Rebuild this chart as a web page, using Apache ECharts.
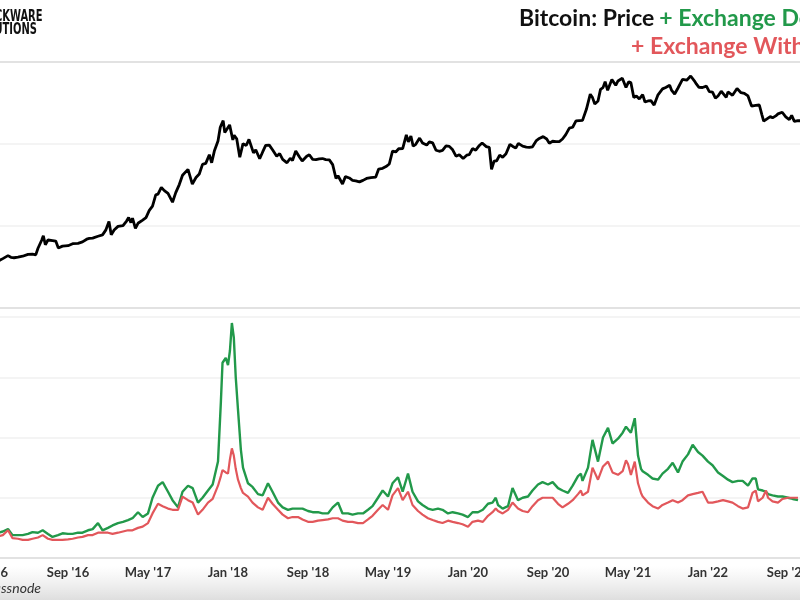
<!DOCTYPE html>
<html>
<head>
<meta charset="utf-8">
<script src="https://cdn.jsdelivr.net/npm/echarts@6/dist/echarts.min.js"></script>
<style>html,body{margin:0;padding:0;background:#fff}#c{width:800px;height:600px}</style>
</head>
<body>
<div id="c"></div>
<script>
// ---- data ----
const priceDates = ['2016-01-20','2016-02-01','2016-02-15','2016-03-01','2016-03-10','2016-03-20','2016-04-01','2016-04-15','2016-05-01','2016-05-15','2016-05-25','2016-06-01','2016-06-12','2016-06-17','2016-06-23','2016-07-01','2016-07-15','2016-07-25','2016-08-02','2016-08-15','2016-09-01','2016-09-15','2016-10-01','2016-10-15','2016-10-28','2016-11-05','2016-11-15','2016-12-01','2016-12-15','2016-12-25','2017-01-04','2017-01-11','2017-01-20','2017-02-01','2017-02-15','2017-02-25','2017-03-03','2017-03-10','2017-03-15','2017-03-24','2017-04-01','2017-04-15','2017-04-25','2017-05-05','2017-05-15','2017-05-25','2017-06-01','2017-06-11','2017-06-20','2017-07-01','2017-07-15','2017-07-25','2017-08-05','2017-08-15','2017-09-01','2017-09-14','2017-09-25','2017-10-05','2017-10-15','2017-10-25','2017-11-05','2017-11-12','2017-11-20','2017-12-01','2017-12-08','2017-12-17','2017-12-22','2017-12-28','2018-01-06','2018-01-16','2018-01-20','2018-01-28','2018-02-06','2018-02-15','2018-02-24','2018-03-04','2018-03-18','2018-03-25','2018-04-06','2018-04-15','2018-04-24','2018-05-05','2018-05-15','2018-05-28','2018-06-06','2018-06-15','2018-06-28','2018-07-08','2018-07-15','2018-07-25','2018-08-05','2018-08-14','2018-08-28','2018-09-05','2018-09-15','2018-09-25','2018-10-05','2018-10-15','2018-10-25','2018-11-05','2018-11-15','2018-11-25','2018-12-01','2018-12-15','2018-12-24','2019-01-05','2019-01-15','2019-01-25','2019-02-05','2019-02-15','2019-02-25','2019-03-10','2019-03-25','2019-04-03','2019-04-15','2019-04-25','2019-05-05','2019-05-15','2019-05-25','2019-06-03','2019-06-15','2019-06-26','2019-07-02','2019-07-10','2019-07-17','2019-07-25','2019-08-06','2019-08-15','2019-08-28','2019-09-05','2019-09-15','2019-09-25','2019-10-05','2019-10-15','2019-10-26','2019-11-05','2019-11-15','2019-11-25','2019-12-05','2019-12-17','2019-12-28','2020-01-05','2020-01-15','2020-01-25','2020-02-05','2020-02-13','2020-02-25','2020-03-05','2020-03-12','2020-03-20','2020-03-28','2020-04-06','2020-04-15','2020-04-25','2020-05-07','2020-05-15','2020-05-25','2020-06-02','2020-06-15','2020-06-26','2020-07-05','2020-07-15','2020-07-27','2020-08-05','2020-08-17','2020-08-28','2020-09-05','2020-09-15','2020-09-25','2020-10-05','2020-10-15','2020-10-25','2020-11-05','2020-11-15','2020-11-25','2020-12-01','2020-12-15','2020-12-27','2021-01-08','2021-01-15','2021-01-22','2021-02-01','2021-02-08','2021-02-15','2021-02-21','2021-02-28','2021-03-13','2021-03-25','2021-04-01','2021-04-14','2021-04-25','2021-05-03','2021-05-10','2021-05-19','2021-05-27','2021-06-05','2021-06-15','2021-06-22','2021-07-01','2021-07-10','2021-07-20','2021-08-01','2021-08-15','2021-08-25','2021-09-06','2021-09-12','2021-09-21','2021-10-01','2021-10-15','2021-10-21','2021-10-28','2021-11-09','2021-11-20','2021-11-26','2021-12-02','2021-12-04','2021-12-15','2021-12-27','2022-01-05','2022-01-15','2022-01-24','2022-02-01','2022-02-10','2022-02-24','2022-03-01','2022-03-15','2022-03-29','2022-04-10','2022-04-20','2022-05-01','2022-05-12','2022-05-25','2022-06-05','2022-06-13','2022-06-18','2022-06-28','2022-07-08','2022-07-15','2022-07-25','2022-08-01','2022-08-14','2022-08-25','2022-09-05','2022-09-12','2022-09-20','2022-10-01','2022-10-15','2022-10-29'];
const prices = [410,372,400,435,415,410,416,428,450,455,445,535,670,760,590,675,665,655,540,568,575,608,615,640,690,705,712,750,780,890,1135,780,895,990,1010,1150,1270,1100,1245,935,1080,1180,1265,1550,1750,2400,2450,2950,2700,2500,1950,2550,3200,4150,4900,3250,3900,4300,5650,5800,7400,5900,8200,10900,16000,19300,13800,14500,17100,11200,12800,11600,6900,10100,9600,11400,7800,8500,6600,8000,9600,9700,8500,7100,7650,6500,5900,6700,6300,8200,7000,6200,7100,7400,6500,6450,6600,6650,6450,6400,5600,3800,4100,3250,4000,3850,3600,3550,3450,3600,3800,3900,3950,4950,5050,5300,5700,8200,8000,8750,8800,12900,10600,12500,9400,9900,11800,10300,9700,10600,10300,8400,8150,8350,9500,9350,8500,7100,7400,6650,7300,7400,8800,8400,9600,10300,9300,9100,4900,6200,6250,7300,6900,7600,9900,9400,8900,10200,9400,9150,9100,9250,11000,11700,12300,11500,10200,10800,10700,10700,11500,13000,15600,16000,19100,19200,19400,26500,40500,36800,30800,33500,46400,48700,57500,45200,61000,52000,58700,63500,49000,57200,56000,37000,38500,35500,40000,32500,33500,33800,29800,39800,47000,48900,52000,45000,40700,48200,61500,64000,60000,67500,59000,54000,56500,49000,48900,50800,43500,43000,36300,38500,44000,37000,43200,39300,47400,42200,41500,38500,29000,29600,29900,22500,19000,20300,21600,20800,22000,23300,24400,21400,19800,22300,18900,19300,19100,20700];

const flowDates = ['2016-02-01','2016-02-15','2016-03-01','2016-03-15','2016-04-01','2016-04-15','2016-05-01','2016-05-15','2016-06-01','2016-06-15','2016-07-01','2016-07-15','2016-08-01','2016-08-15','2016-09-01','2016-09-15','2016-10-01','2016-10-15','2016-11-01','2016-11-15','2016-12-01','2016-12-15','2017-01-01','2017-01-15','2017-02-01','2017-02-15','2017-03-01','2017-03-15','2017-04-01','2017-04-15','2017-05-01','2017-05-15','2017-06-01','2017-06-15','2017-07-01','2017-07-15','2017-08-01','2017-08-15','2017-09-01','2017-09-15','2017-10-01','2017-10-15','2017-11-01','2017-11-15','2017-12-01','2017-12-10','2017-12-15','2017-12-25','2018-01-01','2018-01-07','2018-01-13','2018-01-19','2018-01-25','2018-02-01','2018-02-09','2018-02-15','2018-03-01','2018-03-15','2018-04-01','2018-04-15','2018-05-01','2018-05-15','2018-06-01','2018-06-15','2018-07-01','2018-07-15','2018-08-01','2018-08-15','2018-09-01','2018-09-15','2018-10-01','2018-10-15','2018-11-01','2018-11-15','2018-12-01','2018-12-15','2019-01-01','2019-01-15','2019-02-01','2019-02-15','2019-03-01','2019-03-15','2019-04-01','2019-04-15','2019-05-01','2019-05-15','2019-06-01','2019-06-15','2019-07-01','2019-07-15','2019-08-01','2019-08-15','2019-09-01','2019-09-15','2019-10-01','2019-10-15','2019-11-01','2019-11-15','2019-12-01','2019-12-15','2020-01-01','2020-01-15','2020-02-01','2020-02-15','2020-03-01','2020-03-15','2020-03-25','2020-04-01','2020-04-15','2020-05-01','2020-05-15','2020-06-01','2020-06-15','2020-07-01','2020-07-15','2020-08-01','2020-08-15','2020-09-01','2020-09-15','2020-10-01','2020-10-15','2020-11-01','2020-11-15','2020-12-01','2020-12-10','2020-12-15','2021-01-01','2021-01-15','2021-02-01','2021-02-15','2021-03-01','2021-03-15','2021-04-01','2021-04-15','2021-04-25','2021-05-01','2021-05-10','2021-05-22','2021-06-01','2021-06-10','2021-06-15','2021-07-01','2021-07-15','2021-08-01','2021-08-15','2021-09-01','2021-09-15','2021-10-01','2021-10-15','2021-11-01','2021-11-15','2021-12-01','2021-12-15','2022-01-01','2022-01-15','2022-02-01','2022-02-15','2022-03-01','2022-03-15','2022-04-01','2022-04-15','2022-05-01','2022-05-15','2022-05-25','2022-06-01','2022-06-15','2022-06-25','2022-07-01','2022-07-15','2022-08-01','2022-08-15','2022-09-01','2022-09-15','2022-10-01'];
const deposits = [21,22,24,19,19,19,20,21.5,21,23,20,17.5,19,20.5,20,20,21,21,23,24,29,23,25,27,29,30,31.5,33,38,34,37,50,60,63,55,48,42,55,60,58,46,50,56,61,80,130,162,166,160,172,195,183,150,123,90,75,62,59,53,52,62,55,46,42,40,41,41,41,39,38,38,37,37,42,46,37,37,36,37,37,40,43,50,56,51,62,67,55,70,55,47,44,41,40,41,40,37,38,37,36,34,38,38,40,45,46,50,44,41,43,58,48,50,51,56,61,63,61,63,58,56,54,60,68,70,64,75,98,80,100,108,95,99,104,109,108,104,116,85,74,72,69,66,65,70,74,79,71,80,86,94,88,85,80,77,71,68,65,63,64,64,60,66,66,57,56,55,53,52,51,51,50,49,48];
const withdrawals = [18,19,23,16.5,16,15,15,16,17,19,16,15,15,15,15.5,16,17,17.5,19,19,21,21,21,20,21,22,23,23,25,26,29,37,45,43,41,40,40,51,48,46,36,40,46,49,60,68,73,71,70,82,91,85,74,65,58,54,51,46,42,40,50,45,40,36,33,34,34,32,30,30,31,31.5,32,33,33,31,30,30,29,29,32,35,40,44,40,52,58,48,55,44,39,36,33,31.5,30,29,31,30,29,28,26,30,31,30,35,38,41,39,37,40,46,41,39,38,43,48,50,50,50,45,42,45,48,53,56,52,55,75,65,76,80,71,69,72,81,78,69,80,62,54,51,46,43,41,44,46,48,46,48,52,53,54,55,46,46,47,48,47,46,43,41,42,54,56,47,50,56,50,47,46,49,50,50,50];

const tickMonthNames = ['Jan','Feb','Mar','Apr','May','Jun','Jul','Aug','Sep','Oct','Nov','Dec'];

// ---- helpers ----
function toM(s){const [y,mo,d]=s.split('-').map(Number);const dim=new Date(y,mo,0).getDate();return (y-2016)*12+(mo-1)+(d-1)/dim;}
const priceData = priceDates.map((d,i)=>[toM(d),prices[i]]);
const depData = flowDates.map((d,i)=>[toM(d),deposits[i]]);
const wdData = flowDates.map((d,i)=>[toM(d),withdrawals[i]]);

const GREEN='#22994a', RED='#e2575b';
const FONT='Lato, "Noto Sans", sans-serif';
const chart = echarts.init(document.getElementById('c'), null, {renderer:'canvas'});
const xBase = {type:'value',min:0,max:88,interval:8,splitLine:{show:false},axisTick:{show:false}};
chart.setOption({
  animation:false,
  backgroundColor:'#fff',
  title:[
    {left:514,top:2,text:'{b|Bitcoin: Price} {g|+ Exchange Deposits}',
     textStyle:{rich:{b:{color:'#111',fontSize:23,fontWeight:'bold',fontFamily:FONT},g:{color:GREEN,fontSize:23,fontWeight:'bold',fontFamily:FONT}}}},
    {left:626,top:30,text:'+ Exchange Withdrawals',textStyle:{color:RED,fontSize:23,fontWeight:'bold',fontFamily:FONT}}
  ],
  grid:[
    {left:-12,right:-68,top:62,height:246,outerBoundsMode:'none',containLabel:false},
    {left:-12,right:-68,top:317,height:241,outerBoundsMode:'none',containLabel:false}
  ],
  xAxis:[
    Object.assign({gridIndex:0,position:'bottom',axisLine:{show:true,lineStyle:{color:'#dcdcdc',width:1.5}},axisLabel:{show:false}},xBase),
    Object.assign({gridIndex:0,position:'top',axisLine:{show:true,lineStyle:{color:'#dcdcdc',width:1.5}},axisLabel:{show:false}},xBase),
    Object.assign({gridIndex:1,position:'bottom',axisLine:{show:true,lineStyle:{color:'#dcdcdc',width:1.5}},
      axisLabel:{show:true,margin:8,color:'#333',fontSize:13,fontWeight:'bold',fontFamily:FONT,hideOverlap:false,
        formatter:v=>{const y=2016+Math.floor(v/12);return tickMonthNames[v%12]+" '"+String(y).slice(2);}}},xBase)
  ],
  yAxis:[
    {gridIndex:0,type:'log',logBase:10,min:100,max:100000,axisLine:{show:false},axisTick:{show:false},axisLabel:{show:false},
     splitLine:{show:true,lineStyle:{color:'#f0f0f0',width:1.5}}},
    {gridIndex:1,type:'value',min:0,max:200,interval:50,axisLine:{show:false},axisTick:{show:false},axisLabel:{show:false},
     splitLine:{show:true,lineStyle:{color:'#f0f0f0',width:1.5}}}
  ],
  graphic:[
    {type:'rect',z:-10,silent:true,shape:{x:0,y:566,width:800,height:34},
     style:{fill:new echarts.graphic.LinearGradient(0,0,0,1,[{offset:0,color:'rgba(230,230,230,0)'},{offset:1,color:'rgba(222,222,222,1)'}])}},
    {type:'text',x:-27,y:10,scaleX:0.69,z:100,style:{x:0,y:0,text:'BLOCKWARE\nSOLUTIONS',fill:'#111',font:'bold 16px "DejaVu Sans Condensed", "DejaVu Sans", sans-serif',lineHeight:13}},
    {type:'text',z:100,style:{x:41,y:588,text:'Source: glassnode',textAlign:'right',textVerticalAlign:'middle',fill:'#333',font:'italic 14px Lato, "Noto Sans", sans-serif'}}
  ],
  series:[
    {name:'Price',type:'line',xAxisIndex:0,yAxisIndex:0,data:priceData,showSymbol:false,lineStyle:{color:'#000',width:2.8},itemStyle:{color:'#000'}},
    {name:'Exchange Deposits',type:'line',xAxisIndex:2,yAxisIndex:1,data:depData,showSymbol:false,lineStyle:{color:GREEN,width:2.4},itemStyle:{color:GREEN}},
    {name:'Exchange Withdrawals',type:'line',xAxisIndex:2,yAxisIndex:1,data:wdData,showSymbol:false,lineStyle:{color:RED,width:2.2},itemStyle:{color:RED}}
  ]
});
</script>
</body>
</html>
